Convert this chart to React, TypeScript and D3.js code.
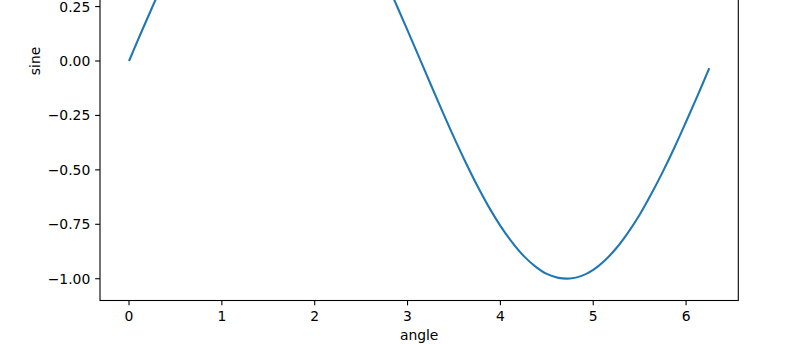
import React from "react";
import * as d3 from "d3";

const angles = [0, 0.125, 0.25, 0.375, 0.5, 0.625, 0.75, 0.875, 1, 1.125, 1.25, 1.375, 1.5, 1.625, 1.75, 1.875, 2, 2.125, 2.25, 2.375, 2.5, 2.625, 2.75, 2.875, 3, 3.125, 3.25, 3.375, 3.5, 3.625, 3.75, 3.875, 4, 4.125, 4.25, 4.375, 4.5, 4.625, 4.75, 4.875, 5, 5.125, 5.25, 5.375, 5.5, 5.625, 5.75, 5.875, 6, 6.125, 6.25];
const sines = [0, 0.125, 0.247, 0.366, 0.479, 0.585, 0.682, 0.768, 0.841, 0.902, 0.949, 0.981, 0.997, 0.998, 0.984, 0.954, 0.909, 0.85, 0.778, 0.694, 0.598, 0.494, 0.382, 0.263, 0.141, 0.017, -0.108, -0.231, -0.351, -0.465, -0.572, -0.67, -0.757, -0.832, -0.895, -0.943, -0.978, -0.996, -0.999, -0.987, -0.959, -0.916, -0.859, -0.788, -0.706, -0.611, -0.508, -0.397, -0.279, -0.158, -0.033];
const xTicks = [0, 1, 2, 3, 4, 5, 6];
const yTicks = [0.5, 0.25, 0, -0.25, -0.5, -0.75, -1];

const W = 800, H = 344;
const L = 100, R = 738.3, B = 300.5, T = -178.5;
const FONT = "'DejaVu Sans', sans-serif";
const FS = 13.9;

export default function App() {
  const x = d3.scaleLinear().domain([-0.3125, 6.5625]).range([L, R]);
  const y = d3.scaleLinear().domain([-1.1, 1.1]).range([B, T]);
  const pts = angles.map((a, i) => [a, sines[i]] as [number, number]);
  const line = d3.line<[number, number]>().x(d => x(d[0])).y(d => y(d[1])).curve(d3.curveCatmullRom.alpha(0.5));
  const fmtY = (v: number) => (v < 0 ? "\u2212" : "") + Math.abs(v).toFixed(2);
  return (
    <svg width={W} height={H} style={{ position: "absolute", left: 0, top: 0, overflow: "hidden", background: "#fff" }}>
      <defs>
        <clipPath id="ax"><rect x={L} y={T} width={R - L} height={B - T} /></clipPath>
      </defs>
      <path d={line(pts) || ""} fill="none" stroke="#1f77b4" strokeWidth={2.08} strokeLinejoin="round" strokeLinecap="butt" clipPath="url(#ax)" />
      <rect x={L} y={T} width={R - L} height={B - T} fill="none" stroke="#000" strokeWidth={1.1} />
      {xTicks.map(t => (
        <g key={"x" + t}>
          <line x1={x(t)} x2={x(t)} y1={B} y2={B + 4.86} stroke="#000" strokeWidth={1.1} />
          <text x={x(t)} y={B + 20.3} textAnchor="middle" fontFamily={FONT} fontSize={FS} fill="#000">{t}</text>
        </g>
      ))}
      {yTicks.map(t => (
        <g key={"y" + t}>
          <line x1={L - 4.86} x2={L} y1={y(t)} y2={y(t)} stroke="#000" strokeWidth={1.1} />
          <text x={L - 9.7} y={y(t) + 5} textAnchor="end" fontFamily={FONT} fontSize={FS} fill="#000">{fmtY(t)}</text>
        </g>
      ))}
      <text x={(L + R) / 2} y={339.5} textAnchor="middle" fontFamily={FONT} fontSize={FS} fill="#000">angle</text>
      <text transform={`translate(40,${(T + B) / 2}) rotate(-90)`} textAnchor="middle" fontFamily={FONT} fontSize={FS} fill="#000">sine</text>
    </svg>
  );
}
